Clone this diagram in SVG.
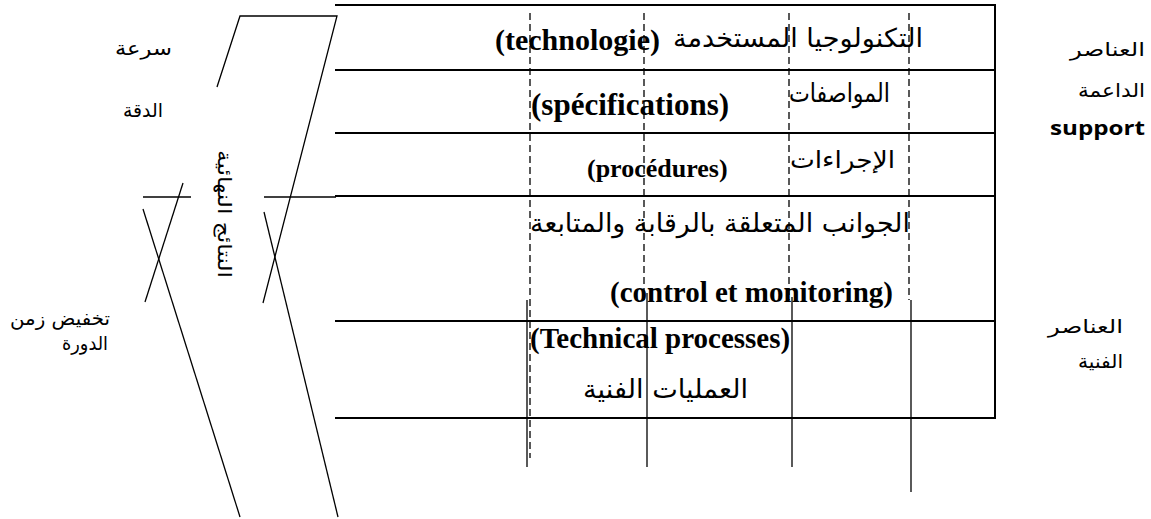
<svg xmlns="http://www.w3.org/2000/svg" width="1151" height="519" viewBox="0 0 1151 519">
  <style>
    .ln { stroke: #000; stroke-width: 2; fill: none; }
    .thin { stroke: #000; stroke-width: 1.3; fill: none; }
    .dash { stroke: #000; stroke-width: 1.3; stroke-dasharray: 7 4; fill: none; }
    .en { font-family: "Liberation Serif", serif; font-weight: bold; fill: #000; }
    .ar { font-family: "DejaVu Sans", "Noto Sans", sans-serif; fill: #000; }
    .lab { font-family: "DejaVu Sans", "Noto Sans", sans-serif; fill: #000; font-size: 19px; }
    .sup { font-family: "Open Sans", "Liberation Sans", sans-serif; font-weight: bold; fill: #000; font-size: 20px; }
  </style>
  <rect width="1151" height="519" fill="#fff"/>

  <!-- table of layers -->
  <g id="table">
    <line class="ln" x1="335" y1="5" x2="995" y2="5"/>
    <line class="ln" x1="335" y1="70" x2="995" y2="70"/>
    <line class="ln" x1="335" y1="133" x2="995" y2="133"/>
    <line class="ln" x1="335" y1="196" x2="995" y2="196"/>
    <line class="ln" x1="335" y1="321" x2="995" y2="321"/>
    <line class="ln" x1="335" y1="418" x2="995" y2="418"/>
    <line class="ln" x1="995" y1="4" x2="995" y2="419"/>
  </g>

  <!-- row labels -->
  <g id="row-technologie">
    <text class="en" x="495" y="50" font-size="30">(technologie)</text>
    <text class="ar" x="923" y="47" font-size="26" text-anchor="end" textLength="250" lengthAdjust="spacingAndGlyphs">التكنولوجيا المستخدمة</text>
  </g>
  <g id="row-specifications">
    <text class="en" x="531" y="115" font-size="31">(spécifications)</text>
    <text class="ar" x="890" y="102" font-size="26" text-anchor="end" textLength="101" lengthAdjust="spacingAndGlyphs">المواصفات</text>
  </g>
  <g id="row-procedures">
    <text class="en" x="587" y="177" font-size="26">(procédures)</text>
    <text class="ar" x="895" y="168" font-size="24" text-anchor="end" textLength="105" lengthAdjust="spacingAndGlyphs">الإجراءات</text>
  </g>
  <g id="row-control">
    <text class="ar" x="910" y="232" font-size="26" text-anchor="end" textLength="380" lengthAdjust="spacingAndGlyphs">الجوانب المتعلقة بالرقابة والمتابعة</text>
    <text class="en" x="610" y="302" font-size="29">(control et monitoring)</text>
  </g>
  <g id="row-technical">
    <text class="en" x="530" y="348" font-size="29">(Technical processes)</text>
    <text class="ar" x="748" y="398" font-size="26" text-anchor="end" textLength="165" lengthAdjust="spacingAndGlyphs">العمليات الفنية</text>
  </g>

  <!-- side labels -->
  <g id="label-speed">
    <text class="lab" x="172" y="55" text-anchor="end" textLength="57" lengthAdjust="spacingAndGlyphs">سرعة</text>
  </g>
  <g id="label-accuracy">
    <text class="lab" x="163" y="117" text-anchor="end" textLength="40" lengthAdjust="spacingAndGlyphs">الدقة</text>
  </g>
  <g id="label-cycle">
    <text class="lab" x="110" y="325" text-anchor="end" textLength="100" lengthAdjust="spacingAndGlyphs">تخفيض زمن</text>
    <text class="lab" x="108" y="350" text-anchor="end" textLength="46" lengthAdjust="spacingAndGlyphs">الدورة</text>
  </g>
  <g id="label-support">
    <text class="lab" x="1145" y="56" text-anchor="end" textLength="75" lengthAdjust="spacingAndGlyphs">العناصر</text>
    <text class="lab" x="1145" y="97" text-anchor="end" textLength="67" lengthAdjust="spacingAndGlyphs">الداعمة</text>
    <text class="sup" x="1145" y="135" text-anchor="end" textLength="95" lengthAdjust="spacingAndGlyphs">support</text>
  </g>
  <g id="label-technical">
    <text class="lab" x="1123" y="333" text-anchor="end" textLength="75" lengthAdjust="spacingAndGlyphs">العناصر</text>
    <text class="lab" x="1123" y="368" text-anchor="end" textLength="45" lengthAdjust="spacingAndGlyphs">الفنية</text>
  </g>
  <g id="label-results">
    <text class="lab" transform="translate(218 214) rotate(90)" x="0" y="0" text-anchor="middle" font-size="21" textLength="128" lengthAdjust="spacingAndGlyphs">النتائج النهائية</text>
  </g>

  <!-- connectors: slanted frame, crossing lines and verticals -->
  <g id="connectors">
    <polyline class="thin" points="217,87 240,16 337,16 263,303"/>
    <line class="thin" x1="183" y1="183" x2="145" y2="302"/>
    <line class="thin" x1="143" y1="209" x2="240" y2="517"/>
    <line class="thin" x1="264" y1="212" x2="338" y2="517"/>
    <line class="thin" x1="143" y1="197" x2="191" y2="197"/>
    <line class="thin" x1="264" y1="197" x2="336" y2="197"/>

    <line class="dash" x1="530" y1="13" x2="530" y2="458"/>
    <line class="dash" x1="644" y1="13" x2="644" y2="300"/>
    <line class="dash" x1="789" y1="13" x2="789" y2="300"/>
    <line class="dash" x1="909" y1="13" x2="909" y2="300"/>

    <line class="thin" x1="527" y1="300" x2="527" y2="467"/>
    <line class="thin" x1="647" y1="293" x2="647" y2="467"/>
    <line class="thin" x1="792" y1="297" x2="792" y2="467"/>
    <line class="thin" x1="911" y1="300" x2="911" y2="492"/>
  </g>
</svg>
